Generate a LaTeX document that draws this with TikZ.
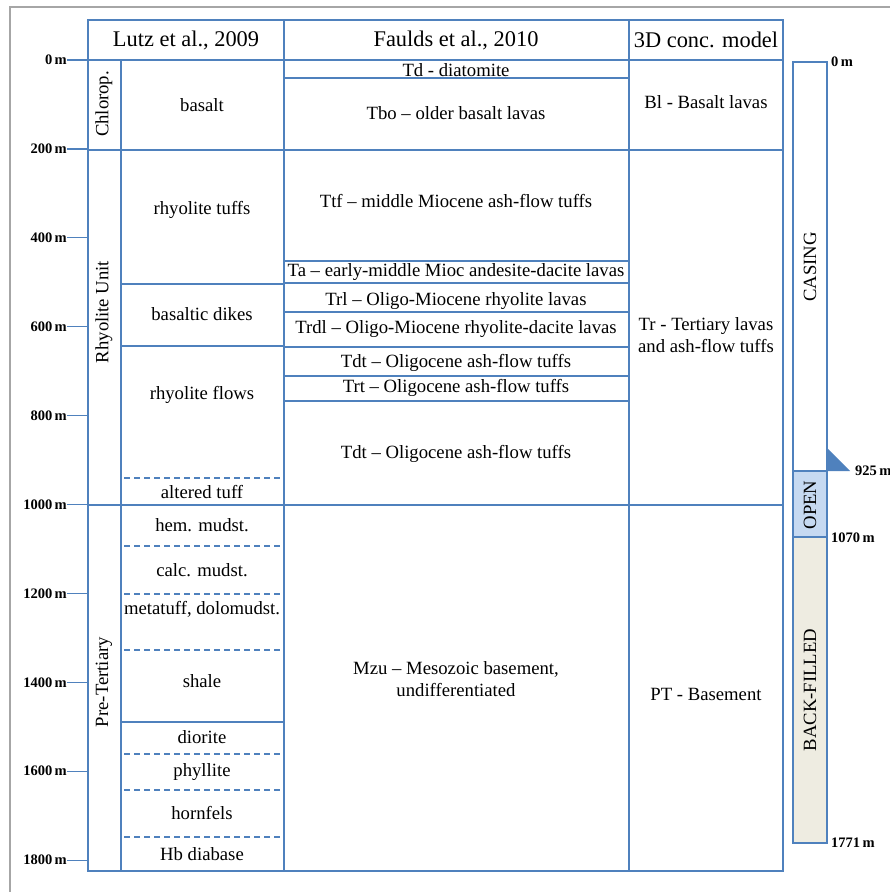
\documentclass[tikz,border=0pt]{standalone}
\usepackage{fontspec}
\setmainfont{Liberation Serif}
\definecolor{bl}{HTML}{4F81BD}
\definecolor{openc}{HTML}{C6D9F1}
\definecolor{backc}{HTML}{EEECE1}
\begin{document}
\begin{tikzpicture}[x=1pt,y=-1pt,
  grid/.style={draw=bl,line width=1.5pt},
  dashline/.style={draw=bl,line width=1.5pt,dash pattern=on 6pt off 4pt},
  txt/.style={font=\fontsize{18.7}{21.5}\selectfont,inner sep=0pt,align=center},
  hdr/.style={font=\fontsize{22.4}{25}\selectfont,inner sep=0pt},
  ticklab/.style={font=\bfseries\fontsize{14.5}{16}\selectfont,anchor=east,inner sep=0pt},
  welllab/.style={font=\bfseries\fontsize{14.5}{16}\selectfont,anchor=west,inner sep=0pt},
  rot/.style={txt,rotate=90}]
\useasboundingbox (0,0) rectangle (890,892);
\draw[gray!70,line width=1.5pt] (10,892) -- (10,7) -- (890,7);
% table frame
\draw[grid] (88,20) rectangle (783,871);
\draw[grid] (121,60) -- (121,871);
\draw[grid] (284,20) -- (284,871);
\draw[grid] (629,20) -- (629,871);
\foreach \y in {60,150,505} \draw[grid] (88,\y) -- (783,\y);
% Lutz column
\foreach \y in {284,346,722} \draw[grid] (121,\y) -- (284,\y);
\foreach \y in {478,546,594,650,754,790,837} \draw[dashline] (124,\y) -- (281,\y);
% Faulds column
\foreach \y in {78,261,283,312,347,376,401} \draw[grid] (284,\y) -- (629,\y);
% ticks
\foreach \k/\lab in {0/0,1/200,2/400,3/600,4/800,5/1000,6/1200,7/1400,8/1600,9/1800}{
  \draw[grid,line width=1.2pt] (67,60+\k*88.9) -- (88,60+\k*88.9);
  \node[ticklab] (t\k) at (67,60+\k*88.9) {\lab\,m};
}
% headers
\node[hdr] (h1) at (186,40) {Lutz et al., 2009};
\node[hdr] (h2) at (456,40) {Faulds et al., 2010};
\node[hdr] (h3) at (706,40) {3D conc. model};
% left rotated labels
\node[rot] (chl) at (104,104) {Chlorop.};
\node[rot] (rhy) at (104,312) {Rhyolite Unit};
\node[rot] (pre) at (104,682) {Pre-Tertiary};
% Lutz lithologies
\node[txt] (l1) at (202,105) {basalt};
\node[txt] (l2) at (202,210) {rhyolite tuffs};
\node[txt] (l3) at (202,314) {basaltic dikes};
\node[txt] (l4) at (202,395) {rhyolite flows};
\node[txt] (l5) at (202,492) {altered tuff};
\node[txt] (l6) at (202,525) {hem. mudst.};
\node[txt] (l7) at (202,570) {calc. mudst.};
\node[txt] (l8) at (202,609) {metatuff, dolomudst.};
\node[txt] (l9) at (202,681) {shale};
\node[txt] (l10) at (202,737) {diorite};
\node[txt] (l11) at (202,772) {phyllite};
\node[txt] (l12) at (202,813) {hornfels};
\node[txt] (l13) at (202,854) {Hb diabase};
% Faulds units
\node[txt] (f1) at (456,70) {Td - diatomite};
\node[txt] (f2) at (456,113) {Tbo -- older basalt lavas};
\node[txt] (f3) at (456,201) {Ttf -- middle Miocene ash-flow tuffs};
\node[txt] (f4) at (456,272) {Ta -- early-middle Mioc andesite-dacite lavas};
\node[txt] (f5) at (456,301) {Trl -- Oligo-Miocene rhyolite lavas};
\node[txt] (f6) at (456,329) {Trdl -- Oligo-Miocene rhyolite-dacite lavas};
\node[txt] (f7) at (456,363) {Tdt -- Oligocene ash-flow tuffs};
\node[txt] (f8) at (456,388) {Trt -- Oligocene ash-flow tuffs};
\node[txt] (f9) at (456,454) {Tdt -- Oligocene ash-flow tuffs};
\node[txt] (f10) at (456,679) {Mzu -- Mesozoic basement,\\undifferentiated};
% 3D model
\node[txt] (m1) at (706,102) {Bl - Basalt lavas};
\node[txt] (m2) at (706,335) {Tr - Tertiary lavas\\and ash-flow tuffs};
\node[txt] (m3) at (706,694) {PT - Basement};
% well
\fill[openc] (793,471) rectangle (827,537);
\fill[backc] (793,537) rectangle (827,843);
\draw[grid] (793,62) rectangle (827,843);
\draw[grid] (793,471) -- (827,471);
\draw[grid] (793,537) -- (827,537);
\fill[bl] (827,448) -- (827,471) -- (850,471) -- cycle;
\node[rot] (w1) at (810,267) {CASING};
\node[rot] (w2) at (810,505) {OPEN};
\node[rot] (w3) at (810,690) {BACK-FILLED};
\node[welllab] (d0) at (831,62) {0\,m};
\node[welllab] (d1) at (855,471) {925\,m};
\node[welllab] (d2) at (831,538) {1070\,m};
\node[welllab] (d3) at (831,843) {1771\,m};
\end{tikzpicture}
\end{document}
